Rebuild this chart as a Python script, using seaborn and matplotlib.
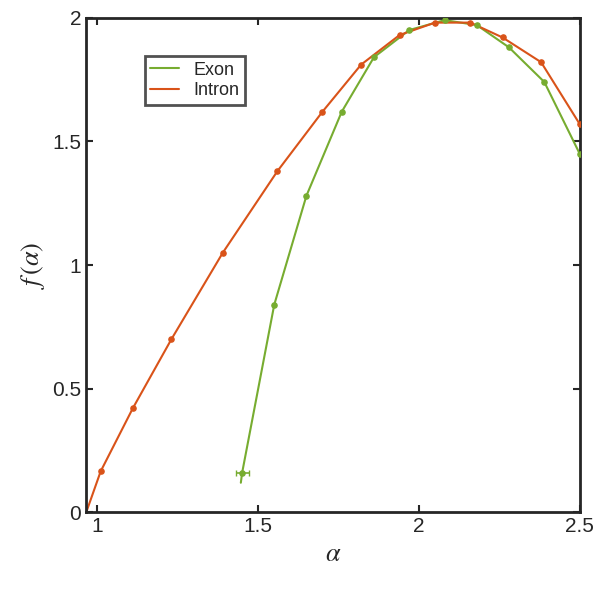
import numpy as np
import pandas as pd
import matplotlib
matplotlib.use("Agg")
import matplotlib.pyplot as plt
import seaborn as sns

# Intron f(alpha) spectrum
intron_alpha = [0.965, 1.01, 1.11, 1.23, 1.39, 1.56, 1.70, 1.82, 1.94, 2.05, 2.16, 2.26, 2.38, 2.50]
intron_f = [0.0, 0.166, 0.421, 0.70, 1.05, 1.38, 1.62, 1.81, 1.93, 1.98, 1.98, 1.92, 1.82, 1.57]
intron_marks = list(range(1, 14))

# Exon f(alpha) spectrum
exon_alpha = [1.446, 1.45, 1.55, 1.65, 1.76, 1.86, 1.97, 2.08, 2.18, 2.28, 2.39, 2.50]
exon_f = [0.12, 0.16, 0.84, 1.28, 1.62, 1.84, 1.95, 1.99, 1.97, 1.88, 1.74, 1.45]
exon_marks = list(range(1, 12))
exon_xerr = 0.02

green = "#77AC30"
orange = "#D95319"

sns.set_style("white")
plt.rcParams['font.family'] = ['Liberation Sans', 'DejaVu Sans']
plt.rcParams['mathtext.fontset'] = 'stix'

fig, ax = plt.subplots(figsize=(6.07, 5.89), dpi=100)
fig.subplots_adjust(left=0.142, right=0.955, top=0.97, bottom=0.13)

sns.lineplot(x=exon_alpha, y=exon_f, color=green, lw=1.5, ax=ax, label="Exon", sort=False)
sns.lineplot(x=intron_alpha, y=intron_f, color=orange, lw=1.5, ax=ax, label="Intron", sort=False)

ex = [exon_alpha[i] for i in exon_marks]
ey = [exon_f[i] for i in exon_marks]
ax.errorbar(ex[:1], ey[:1], xerr=exon_xerr, fmt='none', ecolor=green, capsize=2, lw=1.2)
ax.scatter(ex, ey, s=14, color=green, zorder=3)
ix = [intron_alpha[i] for i in intron_marks]
iy = [intron_f[i] for i in intron_marks]
ax.scatter(ix, iy, s=14, color=orange, zorder=3)

ax.set_xlim(0.965, 2.5)
ax.set_ylim(0, 2)
ax.set_xticks([1, 1.5, 2, 2.5])
ax.set_xticklabels(["1", "1.5", "2", "2.5"])
ax.set_yticks([0, 0.5, 1, 1.5, 2])
ax.set_yticklabels(["0", "0.5", "1", "1.5", "2"])
ax.tick_params(labelsize=15, direction='in', length=5, width=1.5, top=True, right=True,
               bottom=True, left=True, colors='#262626')
for s in ax.spines.values():
    s.set_linewidth(2)
    s.set_color('#262626')
ax.set_xlabel(r"$\alpha$", fontsize=19)
ax.set_ylabel(r"$f\,(\alpha)$", fontsize=19)

leg = ax.legend(loc='upper left', bbox_to_anchor=(0.1, 0.94), fontsize=13, frameon=True,
                fancybox=False, handlelength=1.6, borderpad=0.3, labelspacing=0.2)
leg.get_frame().set_edgecolor('#262626')
leg.get_frame().set_linewidth(2)

fig.savefig("out.png", dpi=100)
